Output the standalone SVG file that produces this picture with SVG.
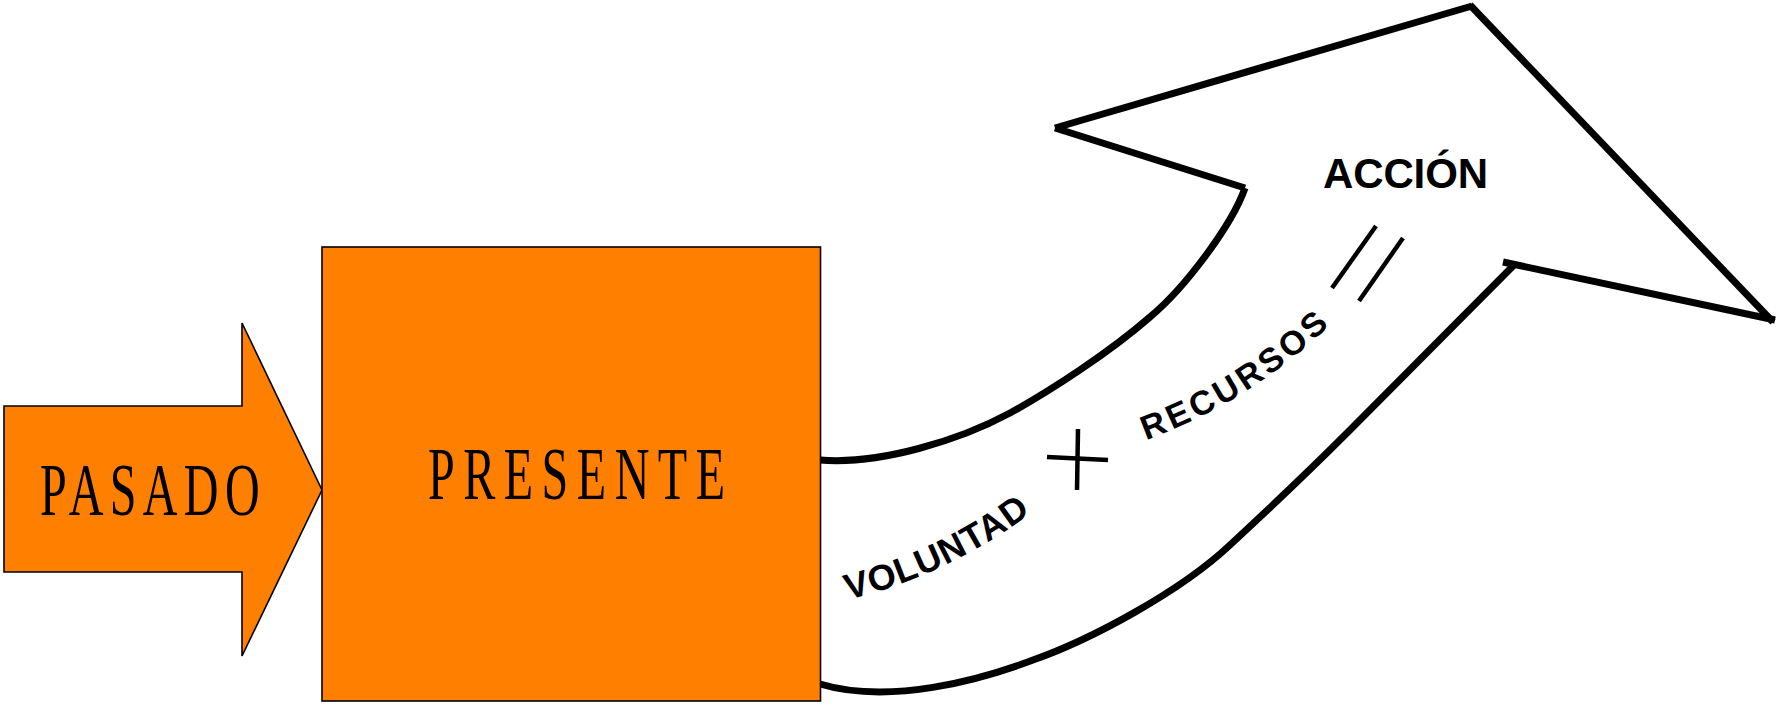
<svg xmlns="http://www.w3.org/2000/svg" width="1777" height="707" viewBox="0 0 1777 707">
<style>
.shape{fill:#ff7f00;stroke:#000;stroke-width:1.6}
.serif{font-family:"Liberation Serif","Times New Roman",serif;font-size:74px;fill:#000}
.bold{font-family:"Liberation Sans",Arial,sans-serif;font-weight:bold;fill:#000}
.thick{fill:none;stroke:#000;stroke-width:7}
.sign{fill:none;stroke:#000;stroke-width:4.5}
</style>
<defs>
<path id="pv" d="M848,600 Q960,572 1050,498"/>
<path id="pr" d="M1146,440 Q1262,398 1350,305"/>
</defs>
<rect width="1777" height="707" fill="#fff"/>
<g id="connectors">
<path class="thick" d="M820,460 C880,465 960,440 1010,413 C1050,391 1110,352 1150,317 C1185,288 1232,225 1245,188"/>
<line class="thick" x1="1245" y1="188" x2="1055" y2="128"/>
<line class="thick" x1="1055" y1="128" x2="1472" y2="6"/>
<line class="thick" x1="1470" y1="5" x2="1773" y2="322"/>
<line class="thick" x1="1775" y1="320" x2="1503" y2="262"/>
<path class="thick" d="M1515,264 L1349,431 C1310,470 1270,508 1230,545 C1180,592 1090,640 1033,660 C980,680 890,705 820,684"/>
</g>
<g id="pasado">
<path class="shape" d="M4,406 H242 V323 L322,490 L242,656 V572 H4 Z"/>
<text class="serif" transform="scale(0.65,1)" x="61.5" y="515" textLength="338" lengthAdjust="spacing">PASADO</text>
</g>
<g id="presente">
<rect class="shape" x="322" y="247" width="498.5" height="454"/>
<text class="serif" transform="scale(0.65,1)" x="658.5" y="499" textLength="457" lengthAdjust="spacing">PRESENTE</text>
</g>
<g id="formula">
<text class="bold" font-size="36"><textPath href="#pv" textLength="204" lengthAdjust="spacing">VOLUNTAD</textPath></text>
<line class="sign" x1="1078" y1="429" x2="1077" y2="490"/>
<line class="sign" x1="1047" y1="457" x2="1108" y2="460"/>
<text class="bold" font-size="34"><textPath href="#pr" textLength="218" lengthAdjust="spacing">RECURSOS</textPath></text>
<line class="sign" x1="1376" y1="226" x2="1332" y2="288"/>
<line class="sign" x1="1403" y1="238" x2="1359" y2="301"/>
</g>
<g id="accion">
<text class="bold" font-size="42" x="1323" y="188" textLength="165" lengthAdjust="spacing">ACCIÓN</text>
</g>
</svg>
